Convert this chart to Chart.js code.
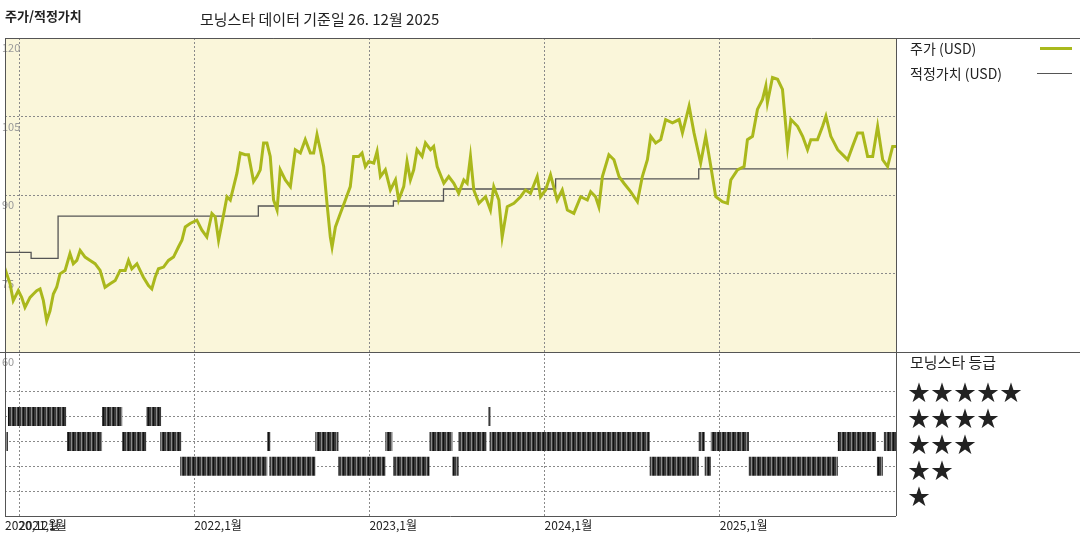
<!DOCTYPE html>
<html>
<head>
<meta charset="utf-8">
<script src="https://cdn.jsdelivr.net/npm/chart.js@4/dist/chart.umd.min.js"></script>
<style>
  body { margin: 0; background: #fff; font-family: "Noto Sans CJK KR", sans-serif; }
  #wrap { position: relative; width: 1080px; height: 540px; }
  canvas { position: absolute; left: 0; top: 0; }
  .txt { position: absolute; color: #222; white-space: nowrap; }
</style>
</head>
<body>
<div id="wrap">
  <canvas id="mainChart" width="1080" height="540"></canvas>
  <div class="txt" style="left:5px;top:6px;font-size:13px;font-weight:bold;">주가/적정가치</div>
  <div class="txt" style="left:200px;top:8px;font-size:15px;">모닝스타 데이터 기준일 26. 12월 2025</div>
  <div class="txt" style="left:910px;top:38px;font-size:14px;">주가 (USD)</div>
  <div style="position:absolute;left:1040px;top:47px;width:32px;height:3px;background:#a9b91d;"></div>
  <div class="txt" style="left:910px;top:63px;font-size:14px;">적정가치 (USD)</div>
  <div style="position:absolute;left:1037px;top:73px;width:35px;height:1px;background:#555;"></div>
  <div class="txt" style="left:910px;top:351px;font-size:15px;">모닝스타 등급</div>
  <div class="txt" style="left:908px;top:377px;font-size:22px;line-height:26px;letter-spacing:1px;">★★★★★<br>★★★★<br>★★★<br>★★<br>★</div>
</div>
<script>
// 주가 (decimal year, USD)
const priceT = [2020.910,2020.949,2020.967,2020.996,2021.015,2021.034,2021.063,2021.082,2021.101,2021.120,2021.139,2021.158,2021.177,2021.196,2021.215,2021.234,2021.263,2021.291,2021.310,2021.330,2021.349,2021.377,2021.406,2021.434,2021.463,2021.491,2021.520,2021.549,2021.577,2021.606,2021.625,2021.644,2021.673,2021.691,2021.710,2021.739,2021.758,2021.777,2021.796,2021.825,2021.853,2021.882,2021.910,2021.930,2021.949,2021.977,2022.015,2022.044,2022.072,2022.101,2022.120,2022.139,2022.158,2022.187,2022.206,2022.225,2022.244,2022.263,2022.291,2022.310,2022.330,2022.339,2022.358,2022.377,2022.396,2022.415,2022.434,2022.453,2022.473,
  2022.491,2022.520,2022.549,2022.577,2022.606,2022.634,2022.663,2022.682,2022.701,2022.720,2022.739,2022.758,2022.777,2022.787,2022.806,2022.834,2022.863,2022.891,2022.910,2022.939,2022.958,2022.977,2022.996,2023.025,2023.044,2023.063,2023.091,2023.120,2023.149,2023.167,2023.196,2023.215,2023.234,2023.253,2023.272,2023.301,2023.320,2023.349,2023.367,2023.387,2023.425,2023.453,2023.482,2023.510,2023.539,2023.558,2023.577,2023.596,2023.625,2023.663,2023.691,2023.710,2023.739,2023.758,2023.787,2023.825,2023.863,2023.891,2023.920,2023.958,2023.977,2024.006,2024.034,2024.072,2024.101,2024.130,2024.167,2024.206,2024.244,
  2024.263,2024.291,2024.310,2024.330,2024.367,2024.396,2024.425,2024.453,2024.491,2024.530,2024.558,2024.587,2024.606,2024.634,2024.663,2024.691,2024.730,2024.768,2024.787,2024.825,2024.853,2024.891,2024.920,2024.949,2024.977,2025.015,2025.044,2025.063,2025.101,2025.139,2025.158,2025.187,2025.215,2025.244,2025.263,2025.272,2025.301,2025.330,2025.358,2025.377,2025.387,2025.406,2025.444,2025.473,2025.501,2025.520,2025.558,2025.587,2025.606,2025.634,2025.673,2025.711,2025.730,2025.758,2025.787,2025.815,2025.844,2025.873,2025.901,2025.930,2025.958,2025.987,2026.006];
const priceV = [76.87,73.02,69.81,71.73,70.44,68.52,70.44,71.09,71.73,72.05,69.81,65.96,67.88,71.09,72.37,74.94,75.58,78.79,76.87,77.50,79.42,78.14,77.50,76.87,75.58,72.37,73.02,73.65,75.58,75.58,77.50,75.90,76.87,75.58,74.29,72.69,72.05,74.29,75.90,76.23,77.50,78.14,80.06,81.35,83.90,84.56,85.19,83.27,81.98,86.48,85.83,81.35,84.56,89.67,89.04,91.60,94.17,98.02,97.69,97.69,94.17,92.56,93.52,94.81,99.94,99.94,97.37,89.04,87.12,
  94.81,92.88,91.60,98.65,98.02,100.58,98.02,98.02,101.54,98.65,95.44,88.40,81.98,80.06,83.90,86.48,89.04,91.60,97.37,97.37,98.02,95.44,96.40,96.09,98.33,93.52,94.81,90.96,92.88,89.04,91.60,96.40,92.88,94.81,98.65,97.37,99.94,98.65,99.29,95.44,92.25,93.52,92.25,90.33,92.88,92.25,97.37,90.96,88.40,89.67,87.12,91.60,89.04,81.98,87.75,88.40,89.67,90.96,90.33,93.52,89.67,90.96,93.85,89.04,90.96,87.12,86.48,89.67,89.04,
  90.64,89.67,87.75,93.52,97.69,96.73,93.52,92.25,90.64,88.71,93.52,96.73,101.21,99.94,100.58,104.42,103.79,104.42,101.87,106.98,101.87,96.09,101.21,95.44,89.67,88.71,88.40,92.88,94.81,95.44,100.58,101.21,106.35,108.27,110.83,107.63,112.44,112.12,110.19,103.13,99.29,104.42,103.13,101.21,98.65,100.58,100.58,103.13,105.06,101.21,98.65,97.37,96.73,99.29,101.87,101.87,97.37,97.37,103.13,96.73,95.44,99.29,99.29];

// 적정가치 (change dates, new value)
const fairT = [2020.92, 2021.069, 2021.223, 2022.366, 2023.137, 2023.423, 2024.063, 2024.88, 2025.674, 2026.006];
const fairV = [80.0, 79.04, 77.9, 85.96, 87.9, 88.85, 91.15, 93.1, 95.0, 95.0];

// 모닝스타 등급 periods [start, end]
const stars4 = [[2020.937,2021.269],[2021.474,2021.589],[2021.726,2021.811],[2023.680,2023.691]];
const stars3 = [[2020.909,2020.937],[2021.274,2021.474],[2021.589,2021.726],[2021.806,2021.926],[2022.417,2022.434],[2022.691,2022.823],[2023.091,2023.131],[2023.343,2023.474],[2023.509,2023.669],[2023.686,2024.600],[2024.880,2024.914],[2024.949,2025.166],[2025.674,2025.891],[2025.937,2026.006]];
const stars2 = [[2021.920,2022.417],[2022.429,2022.691],[2022.823,2023.091],[2023.137,2023.343],[2023.474,2023.509],[2024.600,2024.880],[2024.914,2024.949],[2025.166,2025.674],[2025.897,2025.931]];

const yearTicks = [2020.92, 2021, 2022, 2023, 2024, 2025];
const yearLabels = ['2020,12월', '2021,1월', '2022,1월', '2023,1월', '2024,1월', '2025,1월'];
const priceTicks = [60, 75, 90, 105, 120];

function periodsToLine(periods, row) {
  const pts = [];
  periods.forEach(p => {
    pts.push({x: p[0], y: row}, {x: p[1], y: row}, {x: p[1], y: null});
  });
  return pts;
}

// striped fill for rating bars
const pc = document.createElement('canvas');
pc.width = 5; pc.height = 2;
const pctx = pc.getContext('2d');
pctx.fillStyle = '#3a3a3a'; pctx.fillRect(0, 0, 5, 2);
pctx.fillStyle = '#8a8a8a'; pctx.fillRect(1, 0, 1, 2);
pctx.fillStyle = '#111'; pctx.fillRect(3, 0, 1, 2);
const stripe = pctx.createPattern(pc, 'repeat');

const frame = {
  id: 'frame',
  beforeDraw(chart) {
    const c = chart.ctx, a = chart.chartArea, yp = chart.scales.y;
    c.save();
    c.fillStyle = '#faf6da';
    c.fillRect(a.left, yp.top, a.right - a.left, yp.bottom - yp.top);
    c.restore();
  },
  afterDraw(chart) {
    const c = chart.ctx, a = chart.chartArea, yp = chart.scales.y;
    c.save();
    c.strokeStyle = '#555'; c.lineWidth = 1;
    c.beginPath();
    c.moveTo(a.left, a.top + 0.5); c.lineTo(1080, a.top + 0.5);
    c.moveTo(0, yp.bottom + 0.5); c.lineTo(1080, yp.bottom + 0.5);
    c.moveTo(a.left + 0.5, a.top); c.lineTo(a.left + 0.5, a.bottom);
    c.moveTo(a.right + 0.5, a.top); c.lineTo(a.right + 0.5, a.bottom);
    c.moveTo(a.left, a.bottom + 0.5); c.lineTo(a.right, a.bottom + 0.5);
    c.stroke();
    c.restore();
  }
};

const dashGrid = { color: '#8a8a8a', lineWidth: 1, tickLength: 0 };

new Chart(document.getElementById('mainChart'), {
  type: 'line',
  data: {
    datasets: [
      {
        label: '주가 (USD)',
        data: priceT.map((t, i) => ({x: t, y: priceV[i]})),
        borderColor: '#aab81c', borderWidth: 3, pointRadius: 0, tension: 0,
        yAxisID: 'y'
      },
      {
        label: '적정가치 (USD)',
        data: fairT.map((t, i) => ({x: t, y: fairV[i]})),
        borderColor: '#555', borderWidth: 1.3, pointRadius: 0, stepped: 'after',
        yAxisID: 'y'
      },
      {
        label: '4',
        data: periodsToLine(stars4, 4),
        borderColor: stripe, borderWidth: 19, borderCapStyle: 'butt', pointRadius: 0, spanGaps: false,
        yAxisID: 'yr'
      },
      {
        label: '3',
        data: periodsToLine(stars3, 3),
        borderColor: stripe, borderWidth: 19, borderCapStyle: 'butt', pointRadius: 0, spanGaps: false,
        yAxisID: 'yr'
      },
      {
        label: '2',
        data: periodsToLine(stars2, 2),
        borderColor: stripe, borderWidth: 19, borderCapStyle: 'butt', pointRadius: 0, spanGaps: false,
        yAxisID: 'yr'
      }
    ]
  },
  options: {
    responsive: false,
    animation: false,
    layout: { padding: { left: 5, right: 184, top: 38, bottom: 0 } },
    plugins: { legend: { display: false }, tooltip: { enabled: false } },
    scales: {
      x: {
        type: 'linear', min: 2020.92, max: 2026.006,
        afterBuildTicks: s => { s.ticks = yearTicks.map(v => ({value: v})); },
        afterFit: s => { s.height = 24; },
        grid: Object.assign({}, dashGrid, { color: ctx => ctx.index === 0 ? 'rgba(0,0,0,0)' : '#8a8a8a' }),
        border: { display: false, dash: [2, 2] },
        ticks: {
          autoSkip: false, maxRotation: 0, align: 'start', padding: 2,
          color: '#222', font: { family: 'Noto Sans CJK KR', size: 12 },
          callback: (v, i) => yearLabels[i]
        }
      },
      yr: {
        type: 'linear', position: 'left', stack: 'panels', stackWeight: 164,
        min: 0, max: 6.6,
        afterBuildTicks: s => { s.ticks = [1, 2, 3, 4, 5].map(v => ({value: v})); },
        afterFit: s => { s.width = 0; },
        grid: dashGrid,
        border: { display: false, dash: [2, 2] },
        ticks: { display: false }
      },
      y: {
        type: 'linear', position: 'left', stack: 'panels', stackWeight: 314,
        min: 60, max: 120,
        afterBuildTicks: s => { s.ticks = priceTicks.map(v => ({value: v})); },
        afterFit: s => { s.width = 0; },
        grid: dashGrid,
        border: { display: false, dash: [2, 2] },
        ticks: {
          mirror: true, padding: -3, labelOffset: 10,
          color: '#999', font: { family: 'Noto Sans CJK KR', size: 11 }
        }
      }
    }
  },
  plugins: [frame]
});
</script>
</body>
</html>
